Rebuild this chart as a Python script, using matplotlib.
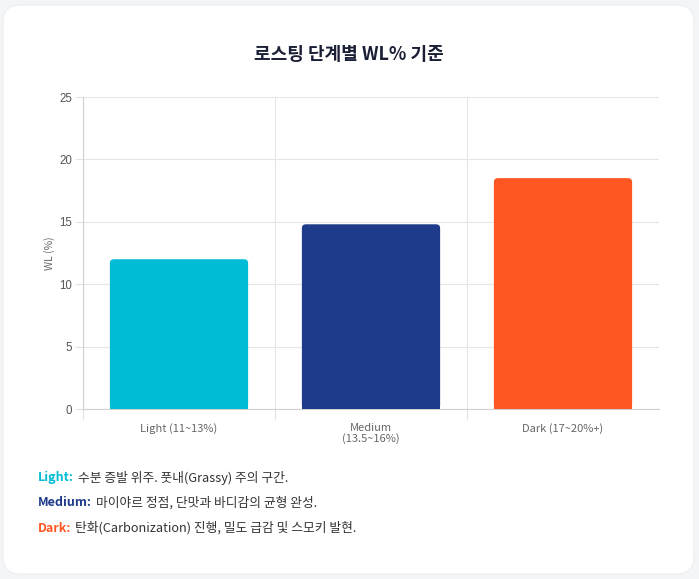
import matplotlib
matplotlib.use("Agg")
import matplotlib.pyplot as plt
from matplotlib.patches import FancyBboxPatch

plt.rcParams['font.family'] = ['Noto Sans CJK KR', 'DejaVu Sans']

# data
categories = ["Light (11~13%)", "Medium\n(13.5~16%)", "Dark (17~20%+)"]
wl_values = [12.0, 14.8, 18.5]
bar_colors = ["#00bcd4", "#1e3a8a", "#ff5722"]
y_ticks = [0, 5, 10, 15, 20, 25]

notes_keys = ["Light:", "Medium:", "Dark:"]
notes_text = [
    "수분 증발 위주. 풋내(Grassy) 주의 구간.",
    "마이야르 정점, 단맛과 바디감의 균형 완성.",
    "탄화(Carbonization) 진행, 밀도 급감 및 스모키 발현.",
]

W, H = 699, 579
fig = plt.figure(figsize=(W / 100, H / 100), dpi=100)
fig.patch.set_facecolor("#f4f5f7")

# white card
card = FancyBboxPatch((3 / W, 5 / H), 691 / W, 569 / H,
                      boxstyle="round,pad=0,rounding_size=0.025",
                      transform=fig.transFigure, facecolor="white",
                      edgecolor="#eceef1", linewidth=0.8,
                      mutation_aspect=W / H, zorder=-1)
fig.patches.append(card)

ax = fig.add_axes([83 / W, 1 - 409 / H, (659 - 83) / W, (409 - 97) / H])
ax.set_zorder(2)
ax.set_facecolor("white")

x = range(len(categories))
bars = ax.bar(x, wl_values, width=0.72, color=bar_colors, zorder=3)

ax.set_xlim(-0.5, 2.5)
ax.set_ylim(0, 25)

# rounded top corners (~4px)
x_per_px = 3 / 576
y_per_px = 25 / 312
for b in bars:
    bx, bw, bh = b.get_x(), b.get_width(), b.get_height()
    rp = FancyBboxPatch((bx, 0), bw, bh,
                        boxstyle="round,pad=0,rounding_size=%f" % (4 * x_per_px),
                        mutation_aspect=y_per_px / x_per_px,
                        facecolor=b.get_facecolor(), edgecolor="none", zorder=3)
    ax.add_patch(rp)
    b.set_height(bh / 2)

ax.set_yticks(y_ticks)
ax.set_yticklabels([str(t) for t in y_ticks], fontsize=8.3, color="#555555",
                   family=["Liberation Sans", "DejaVu Sans"])
ax.set_xticks(list(x))
ax.set_xticklabels(categories, fontsize=8, color="#666666", linespacing=1.05)
ax.set_xticks([-0.5, 0.5, 1.5], minor=True)

ax.tick_params(axis="x", which="major", length=0, pad=10)
ax.tick_params(axis="x", which="minor", length=7, color="#e2e2e2", width=0.8)
ax.tick_params(axis="y", length=6, color="#e2e2e2", width=0.8, pad=2)

ax.grid(True, axis="y", color="#e6e6e6", linewidth=0.8, zorder=0)
ax.grid(True, axis="x", which="minor", color="#e6e6e6", linewidth=0.8, zorder=0)
ax.set_axisbelow(True)

for s in ["top", "right"]:
    ax.spines[s].set_visible(False)
for s in ["left", "bottom"]:
    ax.spines[s].set_color("#d0d0d0")
    ax.spines[s].set_linewidth(0.8)

ax.set_ylabel("WL (%)", fontsize=7.5, color="#666666", labelpad=3)

fig.text(349 / W, 1 - 54 / H, "로스팅 단계별 WL% 기준", ha="center", va="center",
         fontsize=13, fontweight="bold", color="#1a1f36")

# notes under chart
note_y = [478, 503, 528]
for key, txt, col, yy in zip(notes_keys, notes_text, bar_colors, note_y):
    t = fig.text(38 / W, 1 - yy / H, key, ha="left", va="center",
                 fontsize=9, fontweight="bold", color=col)
    fig.canvas.draw()
    bb = t.get_window_extent()
    fig.text((bb.x1 + 4) / W, 1 - yy / H, txt, ha="left", va="center",
             fontsize=9.2, color="#333333")

fig.savefig("out.png", dpi=100, facecolor=fig.get_facecolor())
